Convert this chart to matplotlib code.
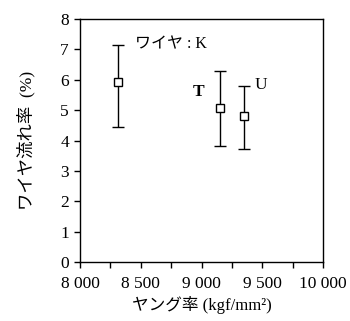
import numpy as np
import matplotlib
matplotlib.use('Agg')
import matplotlib.pyplot as plt
from matplotlib.ticker import FuncFormatter, MultipleLocator

# wire data: Young's modulus vs wire flow rate
labels = ['K', 'T', 'U']
young = [8310, 9155, 9350]
flow = [5.92, 5.08, 4.80]
flow_hi = [7.15, 6.29, 5.79]
flow_lo = [4.43, 3.83, 3.71]

serif = ['Liberation Serif', 'DejaVu Serif']
mixed = ['Liberation Serif', 'Noto Sans CJK JP', 'DejaVu Sans']

fig = plt.figure(figsize=(3.5, 3.21), dpi=100)
ax = fig.add_axes([0.2286, 0.1838, 0.6944, 0.757])

yerr = np.array([np.array(flow) - np.array(flow_lo), np.array(flow_hi) - np.array(flow)])
ax.errorbar(young, flow, yerr=yerr, fmt='s', mfc='white', mec='black', ms=6,
            mew=1.0, ecolor='black', elinewidth=1.0, capsize=4, capthick=1.0)

ax.set_xlim(8000, 10000)
ax.set_ylim(0, 8)
ax.xaxis.set_major_locator(MultipleLocator(500))
ax.xaxis.set_minor_locator(MultipleLocator(250))
ax.yaxis.set_major_locator(MultipleLocator(1))
ax.xaxis.set_major_formatter(FuncFormatter(lambda v, p: f'{int(v):,}'.replace(',', ' ')))
ax.tick_params(which='both', direction='out', length=4, width=1.0, labelsize=12.5)
ax.tick_params(axis='x', pad=6)
ax.tick_params(axis='y', pad=4)
for t in ax.get_xticklabels() + ax.get_yticklabels():
    t.set_fontfamily(serif)
for s in ax.spines.values():
    s.set_linewidth(1.0)

ax.text(8453, 7.17, 'ワイヤ : K', family=mixed, fontsize=11.5, va='center', ha='left')
ax.text(8971, 5.59, 'T', family=serif, fontsize=12.5, fontweight='bold', va='center', ha='center')
ax.text(9490, 5.82, 'U', family=serif, fontsize=12.5, va='center', ha='center')

ax.set_xlabel('ヤング率 (kgf/mm²)', family=mixed, fontsize=12, labelpad=3)
ax.set_ylabel('ワイヤ流れ率  (%)', family=mixed, fontsize=12.5, labelpad=18)

fig.savefig('out.png', dpi=100)
